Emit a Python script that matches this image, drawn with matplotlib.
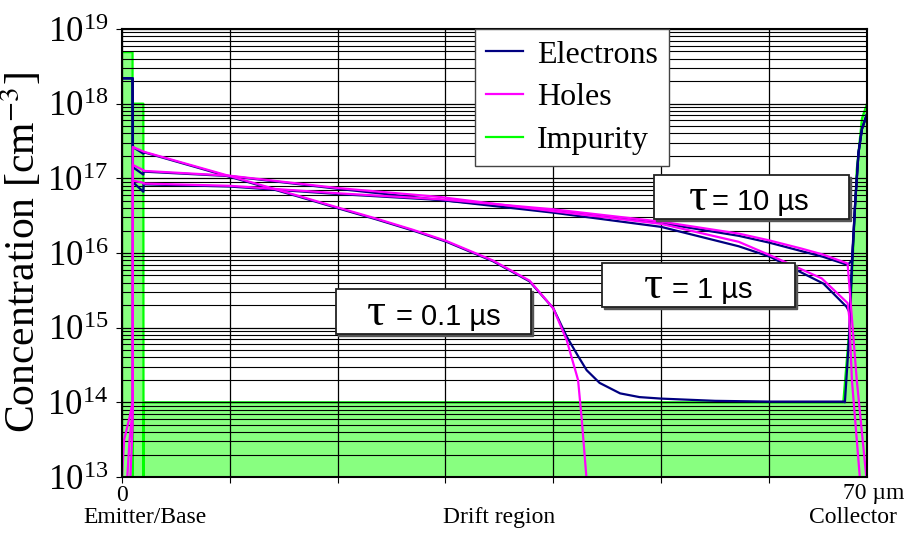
import numpy as np
import matplotlib
matplotlib.use("Agg")
import matplotlib.pyplot as plt
from matplotlib.patches import Rectangle
from matplotlib.lines import Line2D
from matplotlib.ticker import LogLocator

plt.rcParams['font.family'] = 'serif'
plt.rcParams['font.serif'] = ['Liberation Serif', 'DejaVu Serif']
plt.rcParams['mathtext.fontset'] = 'stix'

# position in um, concentration as log10(cm^-3)
imp_x = [0.0, 0.98, 1.0, 1.02, 1.98, 2.0, 2.02, 66.9, 67.52, 68.15, 68.63, 69.1]
imp_log = [18.69, 18.69, 12.0, 18.0, 18.0, 12.0, 14.0, 14.0, 15.08, 17.12, 17.8, 18.0]

# tau = 0.1 us
e01_x = [0, 0.98, 1.0, 1.98, 2.0, 10, 16.5, 20, 23.6, 27, 30.1, 34.4, 37.8, 40.0, 41.25,
         42.3, 43.1, 44.3, 46.2, 48, 50, 55, 60, 66.9, 67.05, 67.43, 67.68, 68.0, 68.31, 68.63, 69.1]
e01_log = [18.34, 18.34, 17.42, 17.33, 17.35, 17.02, 16.75, 16.60, 16.45, 16.30, 16.15, 15.89, 15.62,
           15.26, 14.88, 14.62, 14.43, 14.26, 14.12, 14.07, 14.05, 14.02, 14.01, 14.01, 14.0,
           14.85, 15.76, 16.66, 17.34, 17.66, 17.86]
h01_x = [0.0, 0.2, 0.7, 0.99, 1.0, 1.98, 2.0, 10, 16.5, 20, 23.6, 27, 30.1, 34.4, 37.8, 40.0,
         41.25, 42.3, 42.65, 43.1]
h01_log = [13.0, 13.5, 13.8, 14.0, 17.42, 17.36, 17.357, 17.03, 16.76, 16.61, 16.46, 16.31, 16.16,
           15.90, 15.63, 15.26, 14.83, 14.3, 13.76, 12.95]

# tau = 1 us
e1_x = [0, 0.98, 1.0, 1.98, 2.0, 10, 20, 29.5, 40, 50, 57.2, 60.1, 65.06, 67.2, 67.5,
        67.68, 68.0, 68.31, 68.63, 69.1]
e1_log = [18.34, 18.34, 17.15, 17.05, 17.09, 17.03, 16.86, 16.71, 16.54, 16.35, 16.09, 15.95, 15.59,
          15.28, 15.2, 15.76, 16.66, 17.34, 17.66, 17.86]
h1_x = [0.45, 0.7, 0.99, 1.0, 1.98, 2.0, 10, 20, 29.5, 40, 50, 57.2, 60.1, 64.9, 67.3, 67.45,
        67.7, 68.46]
h1_log = [12.9, 13.5, 13.9, 17.18, 17.11, 17.10, 17.035, 16.87, 16.75, 16.56, 16.39, 16.15, 15.97,
          15.66, 15.33, 15.15, 14.3, 12.95]

# tau = 10 us
e10_x = [0, 0.98, 1.0, 1.98, 2.0, 10, 20, 29.5, 40, 50, 57.2, 60, 65, 67.3, 67.7,
         68.0, 68.31, 68.63, 69.1]
e10_log = [18.34, 18.34, 16.95, 16.82, 16.92, 16.89, 16.79, 16.71, 16.57, 16.40, 16.23, 16.14, 15.95,
           15.84, 15.9, 16.66, 17.34, 17.66, 17.86]
h10_x = [0.75, 0.9, 0.99, 1.0, 1.98, 2.0, 10, 20, 29.5, 40, 50, 57.2, 60, 63, 65, 67.3, 68.15, 69.07]
h10_log = [12.9, 13.4, 13.7, 16.97, 16.94, 16.93, 16.90, 16.80, 16.72, 16.585, 16.42, 16.26, 16.17,
           16.06, 15.98, 15.86, 14.3, 12.95]

tau_labels = ['0.1', '1', '10']
# label boxes in pixel coords of the figure: left, right, top, bottom, tau centre, text start
tau_boxes = [(336, 531, 289, 334, 376, 396),
             (602, 795, 263, 307, 653, 672),
             (654, 849, 175, 219, 698, 712)]

c_e = '#000080'
c_h = '#FF00FF'
c_imp = '#00FF00'
c_fill = '#88FF80'

fig = plt.figure(figsize=(9.12, 5.33), dpi=100)
L, R, T, B = 122, 867, 29, 477
ax = fig.add_axes([L / 912, 1 - B / 533, (R - L) / 912, (B - T) / 533])


def pax(px, py):
    return (px - L) / (R - L), (B - py) / (B - T)


imp = 10 ** np.array(imp_log)
ax.fill_between(imp_x, 1e10, imp, color=c_fill, lw=0, zorder=0.2)
ax.plot(imp_x, imp, color=c_imp, lw=1.6, zorder=0.3)

for ex, ey in [(e01_x, e01_log), (e1_x, e1_log), (e10_x, e10_log)]:
    ax.plot(ex, 10 ** np.array(ey), color=c_e, lw=1.6, zorder=2)
for hx, hy in [(h01_x, h01_log), (h1_x, h1_log), (h10_x, h10_log)]:
    ax.plot(hx, 10 ** np.array(hy), color=c_h, lw=1.6, zorder=2.1)

ax.set_yscale('log')
ax.set_ylim(1e13, 1e19)
ax.yaxis.set_major_locator(LogLocator(base=10, numticks=20))
ax.yaxis.set_minor_locator(LogLocator(base=10, subs=np.arange(2, 10), numticks=20))
ax.set_xlim(0, 69.1)
ax.set_xticks(np.arange(0, 61, 10))
ax.set_xticklabels(['0', '', '', '', '', '', ''])
ax.set_axisbelow(True)
ax.grid(which='major', color='black', lw=0.9)
ax.grid(which='minor', axis='y', color='black', lw=0.8)
ax.tick_params(axis='y', which='major', labelsize=25, length=4, pad=6)
ax.tick_params(axis='y', which='minor', length=0)
ax.tick_params(axis='x', which='major', labelsize=17, length=4, pad=2)
for s in ax.spines.values():
    s.set_linewidth(1.5)

ax.set_ylabel('Concentration [cm$^{-3}$]', fontsize=30)
ax.yaxis.set_label_coords(pax(44, 0)[0], 0.5)

ax.text(*pax(843, 483), '70 \u00b5m', transform=ax.transAxes, fontsize=17, ha='left', va='top')
for txt, px in [('Emitter/Base', 145), ('Drift region', 499), ('Collector', 853)]:
    ax.text(*pax(px, 523), txt, transform=ax.transAxes, fontsize=17, ha='center', va='baseline')

handles = [Line2D([], [], color=c_e, lw=1.6), Line2D([], [], color=c_h, lw=1.6),
           Line2D([], [], color=c_imp, lw=1.6)]
leg = ax.legend(handles, ['Electrons', 'Holes', 'Impurity'], loc='upper left',
                bbox_to_anchor=pax(475, 29), borderaxespad=0, fontsize=23, fancybox=False,
                framealpha=1, edgecolor='#444444', handlelength=1.15, handletextpad=0.45,
                labelspacing=0.42, borderpad=0.35)
leg.get_frame().set_linewidth(1.0)
leg.set_zorder(5)

for lab, (x0, x1, y0, y1, tc, ts) in zip(tau_labels, tau_boxes):
    ax0, ay0 = pax(x0, y1)
    ax1, ay1 = pax(x1, y0)
    sx, sy = 2 / (R - L), 2 / (B - T)
    ax.add_patch(Rectangle((ax0 + sx, ay0 - sy), ax1 - ax0, ay1 - ay0, transform=ax.transAxes,
                           facecolor='#555555', edgecolor='#555555', lw=1, zorder=6, clip_on=False))
    ax.add_patch(Rectangle((ax0, ay0), ax1 - ax0, ay1 - ay0, transform=ax.transAxes,
                           facecolor='white', edgecolor='#222222', lw=1.3, zorder=7, clip_on=False))
    bx, by = pax(tc, y1 - 9)
    ax.text(bx, by, '\u03c4', transform=ax.transAxes, fontsize=34, ha='center', va='baseline',
            family='Liberation Serif', zorder=8)
    bx, by = pax(ts, y1 - 9)
    ax.text(bx, by, '= ' + lab + ' \u00b5s', transform=ax.transAxes, fontsize=21, ha='left',
            va='baseline', family='Liberation Sans', zorder=8)

fig.savefig('out.png', dpi=100)
